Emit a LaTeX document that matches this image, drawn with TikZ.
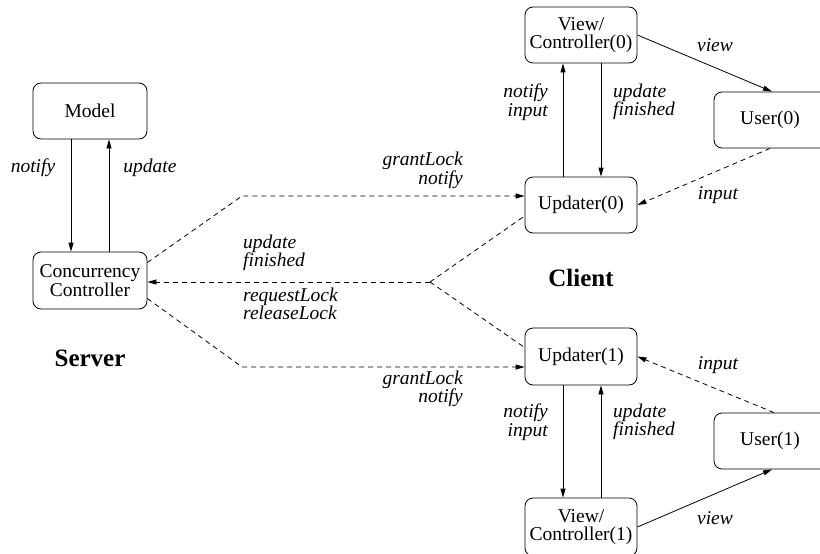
\documentclass[tikz,border=0pt]{standalone}
\usepackage{fontspec}
\setmainfont{Liberation Serif}
\usetikzlibrary{arrows.meta}
\begin{document}
\begin{tikzpicture}[x=1pt,y=-1pt,
  box/.style={draw,rounded corners=8pt,line width=0.8pt,minimum width=112pt,minimum height=56pt,inner sep=0pt,align=center,font=\fontsize{19.5}{18.5}\selectfont},
  lbl/.style={font=\fontsize{19.5}{18.5}\selectfont\itshape,inner sep=0pt},
  title/.style={font=\fontsize{25}{28}\selectfont\bfseries,inner sep=0pt},
  conn/.style={line width=0.8pt,-{Triangle[length=9pt,width=5pt]}},
  dconn/.style={line width=0.8pt,dash pattern=on 5pt off 4pt},
]
\useasboundingbox (0,0) rectangle (820,554);
% nodes
\node[box,minimum width=114pt] (model) at (90,111) {Model};
\node[box,minimum width=114pt,minimum height=57pt] (cc) at (90,280.5) {Concurrency\\Controller};
\node[box] (vc0) at (581,35) {View/\\Controller(0)};
\node[box] (up0) at (581,205) {Updater(0)};
\node[box,minimum width=120pt] (user0) at (774,120) {\hspace*{-8pt}User(0)};
\node[box,minimum height=57pt] (up1) at (581,356.5) {Updater(1)};
\node[box,minimum height=58pt] (vc1) at (581,527) {View/\\Controller(1)};
\node[box,minimum width=120pt] (user1) at (774,441) {\hspace*{-8pt}User(1)};
\node[title] (server) at (90,358) {Server};
\node[title] (client) at (581,278) {Client};
% server arrows
\draw[conn] ([xshift=-19pt]model.south) -- ([xshift=-19pt]cc.north);
\draw[conn] ([xshift=19pt]cc.north) -- ([xshift=19pt]model.south);
\node[lbl] (l1) at (33,168) {notify};
\node[lbl] (l2) at (150,168) {update};
% client 0
\draw[conn] ([xshift=-18pt]up0.north) -- ([xshift=-18pt]vc0.south);
\draw[conn] ([xshift=20pt]vc0.south) -- ([xshift=20pt]up0.north);
\draw[conn] (vc0.east) -- ([xshift=-2pt]user0.north);
\draw[conn,dconn] ([xshift=-4pt]user0.south) -- (up0.east);
\node[lbl,anchor=east,align=right] (l3) at (548,102) {notify\\input};
\node[lbl,anchor=west,align=left] (l4) at (613,102) {update\\finished};
\node[lbl] (l5) at (715,45) {view};
\node[lbl] (l6) at (718,195) {input};
% client 1
\draw[conn] ([xshift=-18pt]up1.south) -- ([xshift=-18pt]vc1.north);
\draw[conn] ([xshift=20pt]vc1.north) -- ([xshift=20pt]up1.south);
\draw[conn] (vc1.east) -- ([xshift=-2pt]user1.south);
\draw[conn,dconn] (user1.north) -- (up1.east);
\node[lbl,anchor=east,align=right] (l7) at (548,422) {notify\\input};
\node[lbl,anchor=west,align=left] (l8) at (613,422) {update\\finished};
\node[lbl] (l9) at (715,518) {view};
\node[lbl] (l10) at (718,365) {input};
% server-client dashed
\coordinate (k1) at (242,196);
\coordinate (k2) at (242,367);
\coordinate (j) at (430,282);
\draw[conn,dconn] ([yshift=18pt]cc.east) -- (k1) -- (k1 -| up0.west);
\draw[conn,dconn] ([yshift=-18pt]cc.east) -- (k2) -- (k2 -| up1.west);
\draw[conn,dconn] (j) -- (j -| cc.east);
\draw[dconn] (j) -- ([yshift=-11pt]up0.west);
\draw[dconn] (j) -- ([yshift=9pt]up1.west);
\node[lbl,anchor=east,align=right] (l11) at (463,170.5) {grantLock\\notify};
\node[lbl,anchor=west,align=left] (l12) at (243,253) {update\\finished};
\node[lbl,anchor=west,align=left] (l13) at (243,304) {requestLock\\releaseLock};
\node[lbl,anchor=east,align=right] (l14) at (463,389) {grantLock\\notify};
\end{tikzpicture}
\end{document}
